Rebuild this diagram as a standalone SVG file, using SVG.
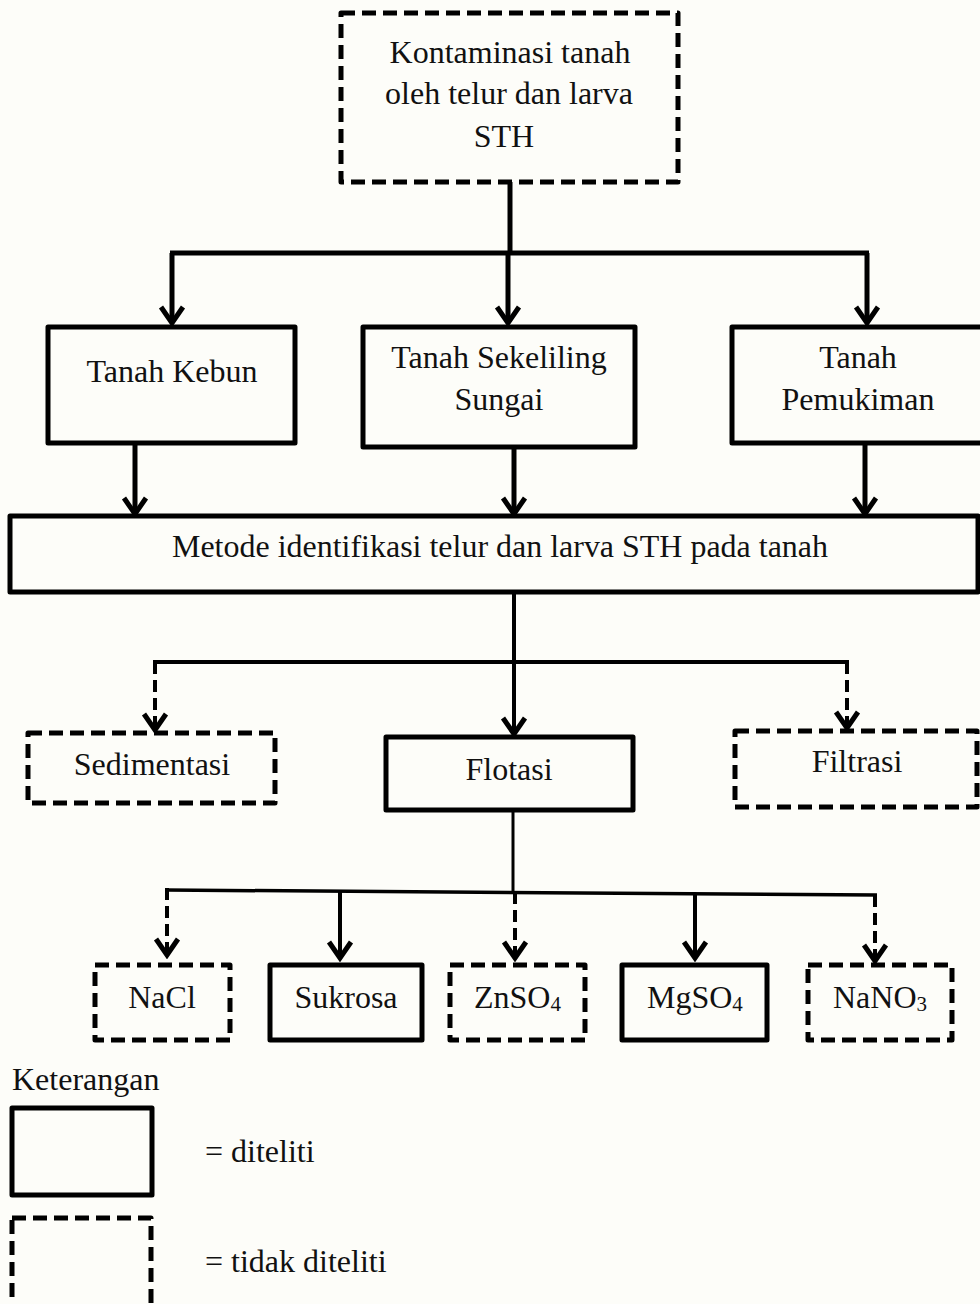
<svg xmlns="http://www.w3.org/2000/svg" width="980" height="1304" viewBox="0 0 980 1304">
<defs>
<style>
.bg{fill:#fdfdf9}
.box{fill:none;stroke:#000;stroke-width:5;stroke-linejoin:round}
.dash{stroke-dasharray:14 7}
text{font-family:'Liberation Serif','Times New Roman',Times,serif;font-size:32px;fill:#111}
.t{text-anchor:middle}
.c{fill:none;stroke:#000;stroke-linecap:butt}
.cd{stroke-dasharray:12 6}
</style>
<marker id="ah" viewBox="-20 -14 24 28" refX="0" refY="0" markerWidth="24" markerHeight="28" markerUnits="userSpaceOnUse" orient="auto">
<path d="M-16,-11 L0,0 L-16,11" fill="none" stroke="#000" stroke-width="5" stroke-linejoin="miter" stroke-dasharray="none"/>
</marker>
</defs>
<rect class="bg" x="0" y="0" width="980" height="1304"/>

<g id="connectors">
<path class="c" stroke-width="5" d="M510,182 V253"/>
<path class="c" stroke-width="5" d="M170,253 H869"/>
<path class="c" stroke-width="5" d="M172,253 V323" marker-end="url(#ah)"/>
<path class="c" stroke-width="5" d="M508,253 V323" marker-end="url(#ah)"/>
<path class="c" stroke-width="5" d="M867,253 V323" marker-end="url(#ah)"/>
<path class="c" stroke-width="5" d="M135,443 V514" marker-end="url(#ah)"/>
<path class="c" stroke-width="5" d="M514,447 V514" marker-end="url(#ah)"/>
<path class="c" stroke-width="5" d="M865,443 V514" marker-end="url(#ah)"/>
<path class="c" stroke-width="4" d="M514,592 V734" marker-end="url(#ah)"/>
<path class="c" stroke-width="4" d="M153,662 H849"/>
<path class="c cd" stroke-width="4" d="M155,662 V730" marker-end="url(#ah)"/>
<path class="c cd" stroke-width="4" d="M847,662 V728" marker-end="url(#ah)"/>
<path class="c" stroke-width="3" d="M513,810 V892"/>
<path class="c" stroke-width="3.5" d="M166,890 L877,895"/>
<path class="c cd" stroke-width="4" d="M167,888 V955" marker-end="url(#ah)"/>
<path class="c" stroke-width="4" d="M340,891 V958" marker-end="url(#ah)"/>
<path class="c cd" stroke-width="4" d="M515,892 V958" marker-end="url(#ah)"/>
<path class="c" stroke-width="4" d="M695,893 V958" marker-end="url(#ah)"/>
<path class="c cd" stroke-width="4" d="M875,895 V961" marker-end="url(#ah)"/>
</g>

<g id="kontaminasi">
<rect class="box dash" x="341" y="13" width="337" height="169"/>
<text class="t" x="510" y="63" font-family="Liberation Serif">Kontaminasi tanah</text>
<text class="t" x="509" y="104" font-family="Liberation Serif">oleh telur dan larva</text>
<text class="t" x="504" y="147" font-family="Liberation Serif">STH</text>
</g>

<g id="kebun">
<rect class="box" x="48" y="327" width="247" height="116"/>
<text class="t" x="172" y="382">Tanah Kebun</text>
</g>

<g id="sekeliling">
<rect class="box" x="363" y="327" width="272" height="120"/>
<text class="t" x="499" y="368">Tanah Sekeliling</text>
<text class="t" x="499" y="410">Sungai</text>
</g>

<g id="pemukiman">
<rect class="box" x="732" y="327" width="260" height="116"/>
<text class="t" x="858" y="368">Tanah</text>
<text class="t" x="858" y="410">Pemukiman</text>
</g>

<g id="metode">
<rect class="box" x="10" y="516" width="968" height="76"/>
<text class="t" x="500" y="557" textLength="656" lengthAdjust="spacingAndGlyphs">Metode identifikasi telur dan larva STH pada tanah</text>
</g>

<g id="sedimentasi">
<rect class="box dash" x="28" y="733" width="247" height="70"/>
<text class="t" x="152" y="775">Sedimentasi</text>
</g>

<g id="flotasi">
<rect class="box" x="386" y="737" width="247" height="73"/>
<text class="t" x="509" y="780">Flotasi</text>
</g>

<g id="filtrasi">
<rect class="box dash" x="735" y="731" width="242" height="76"/>
<text class="t" x="857" y="772">Filtrasi</text>
</g>

<g id="nacl">
<rect class="box dash" x="95" y="965" width="135" height="75"/>
<text class="t" x="162" y="1008">NaCl</text>
</g>

<g id="sukrosa">
<rect class="box" x="270" y="965" width="152" height="75"/>
<text class="t" x="346" y="1008">Sukrosa</text>
</g>

<g id="znso4">
<rect class="box dash" x="450" y="965" width="135" height="75"/>
<text x="474" y="1008">ZnSO<tspan font-size="21" dy="3">4</tspan></text>
</g>

<g id="mgso4">
<rect class="box" x="622" y="965" width="145" height="75"/>
<text x="647" y="1008">MgSO<tspan font-size="21" dy="3">4</tspan></text>
</g>

<g id="nano3">
<rect class="box dash" x="808" y="965" width="144" height="75"/>
<text x="833" y="1008">NaNO<tspan font-size="21" dy="3">3</tspan></text>
</g>

<g id="legend">
<text x="12" y="1090">Keterangan</text>
<rect class="box" x="12" y="1108" width="140" height="87"/>
<text x="205" y="1162">= diteliti</text>
<rect class="box dash" x="12" y="1218" width="139" height="100"/>
<text x="205" y="1272">= tidak diteliti</text>
</g>
</svg>
